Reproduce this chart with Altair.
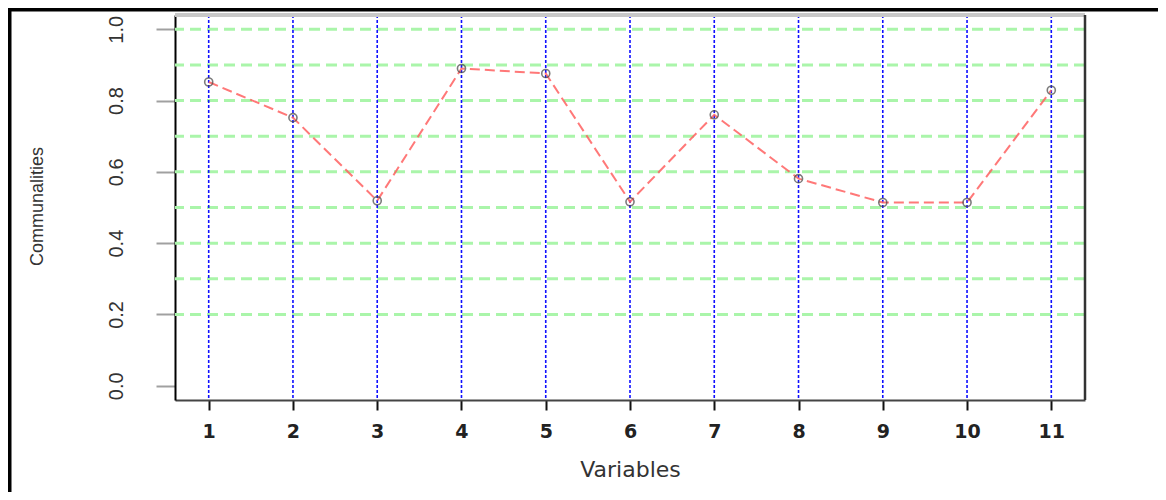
import altair as alt
import pandas as pd

# ---- data ----
variables = [1, 2, 3, 4, 5, 6, 7, 8, 9, 10, 11]
communalities = [0.852, 0.752, 0.519, 0.890, 0.876, 0.516, 0.760, 0.581, 0.514, 0.514, 0.829]
grid_levels = [0.2, 0.3, 0.4, 0.5, 0.6, 0.7, 0.8, 0.9, 1.0]
y_tick_values = [0.0, 0.2, 0.4, 0.6, 0.8, 1.0]
x_title = "Variables"
y_title = "Communalities"

df = pd.DataFrame({"var": variables, "comm": communalities})
vline_df = pd.DataFrame({"var": variables})
one = pd.DataFrame({"k": [0]})

W, H = 910, 385
PAD = {"left": 167, "top": 7, "right": 73, "bottom": 92}

xscale = alt.Scale(domain=[0.6, 11.4], nice=False, zero=False)
yscale = alt.Scale(domain=[-0.04, 1.04], nice=False, zero=False)

narrow = "Liberation Sans Narrow, Liberation Sans, Arial, sans-serif"

x_axis = alt.Axis(
    values=variables, format="d", title=x_title, grid=False,
    domainColor="#444444", domainWidth=2,
    tickColor="#111111", tickWidth=2, tickSize=10,
    labelFont="DejaVu Sans", labelFontWeight="bold", labelFontSize=19,
    labelColor="#222222", labelBaseline="alphabetic", labelPadding=27,
    titleFont="DejaVu Sans", titleFontSize=22, titleFontWeight="normal",
    titleColor="#333333", titleBaseline="alphabetic", titleY=76,
)
y_axis = alt.Axis(
    values=y_tick_values, format=".1f", title=y_title, grid=False,
    domainColor="#000000", domainWidth=2,
    tickColor="#a0a0a0", tickWidth=2, tickSize=19,
    labelFont=narrow, labelFontSize=20, labelColor="#333333",
    labelAngle=270, labelAlign="center", labelBaseline="middle", labelPadding=40,
    titleFont=narrow, titleFontSize=18, titleFontWeight="normal",
    titleColor="#333333", titleAngle=270, titleAlign="center",
    titleBaseline="middle", titleX=-138, titleY=191,
)

X = alt.X("var:Q", scale=xscale, axis=x_axis)
Y = alt.Y("comm:Q", scale=yscale, axis=y_axis)

green = alt.Chart(pd.DataFrame({"comm": grid_levels})).mark_rule(
    color="#aaf5aa", strokeWidth=3, strokeDash=[11, 6]
).encode(y=Y)

blue = alt.Chart(vline_df).mark_rule(
    color="#0f0fff", strokeWidth=1.6, strokeDash=[3, 2]
).encode(x=X)

line = alt.Chart(df).mark_line(
    color="#ff6060", strokeWidth=2, strokeDash=[10, 5], opacity=0.85
).encode(x=X, y=Y)

points = alt.Chart(df).mark_point(
    shape="circle", filled=False, color="#444444", strokeWidth=1.6, size=65
).encode(x=X, y=Y)

# plot frame (top light band, right dark edge)
top_band = alt.Chart(one).mark_rule(color="#c8c8c8", strokeWidth=4).encode(
    x=alt.value(0), x2=alt.value(W), y=alt.value(0)
)
right_edge = alt.Chart(one).mark_rule(color="#333333", strokeWidth=2.5).encode(
    x=alt.value(W), y=alt.value(0), y2=alt.value(H)
)

# outer picture border (black, top and left)
outer_top = alt.Chart(one).mark_rule(color="#000000", strokeWidth=3.5).encode(
    x=alt.value(-PAD["left"]), x2=alt.value(W + PAD["right"]), y=alt.value(-5.25)
)
outer_left = alt.Chart(one).mark_rule(color="#000000", strokeWidth=3.5).encode(
    x=alt.value(-165.25), y=alt.value(-PAD["top"]), y2=alt.value(H + PAD["bottom"])
)

chart = alt.layer(
    green, blue, line, points, top_band, right_edge, outer_top, outer_left
).properties(
    width=W, height=H,
    padding=PAD,
    autosize=alt.AutoSizeParams(type="none"),
).configure_view(stroke=None)

chart.save("out.html", embed_options={"renderer": "svg", "actions": False})
